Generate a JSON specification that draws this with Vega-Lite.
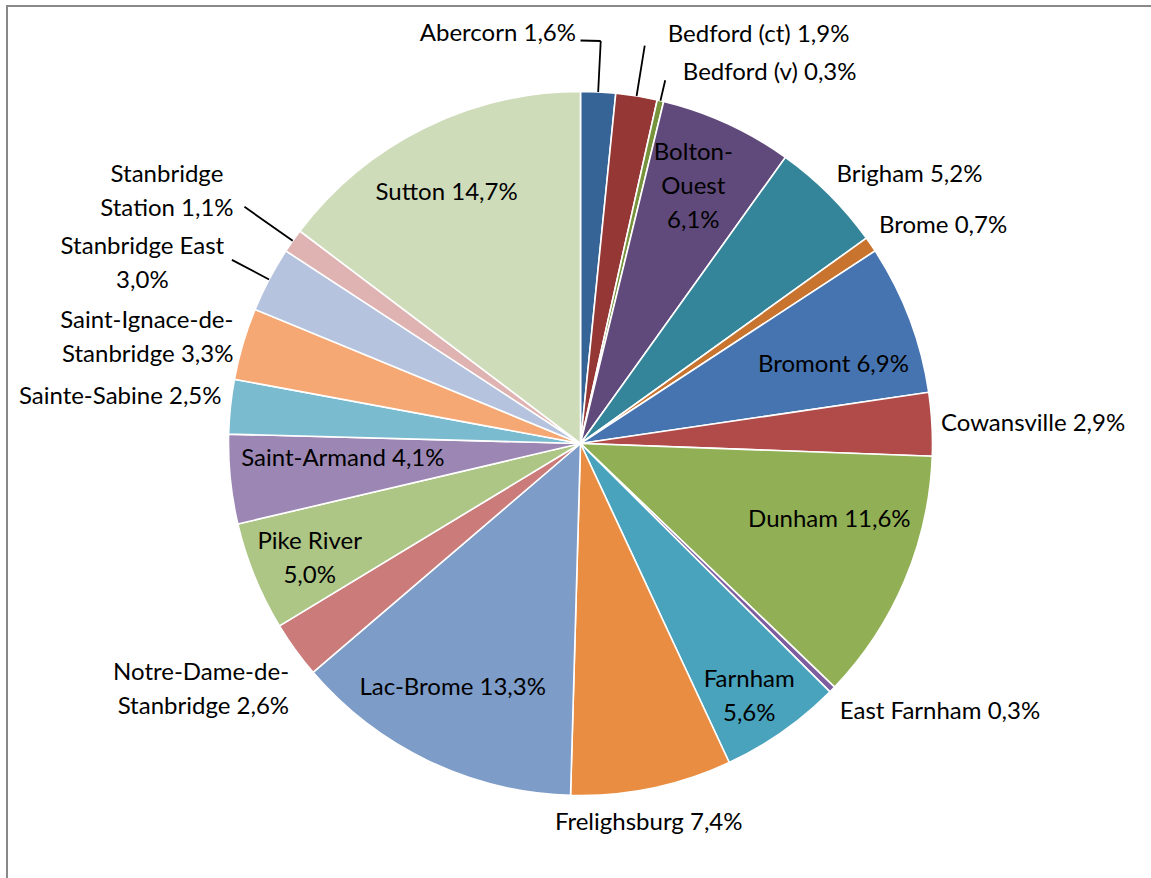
{
  "$schema": "https://vega.github.io/schema/vega-lite/v6.json",
  "autosize": "none",
  "width": 1147,
  "height": 875,
  "padding": {"left": 7, "top": 6, "right": -3, "bottom": -3},
  "background": "white",
  "view": {"stroke": "#898989", "strokeWidth": 2},
  "config": {"text": {"font": "Lato", "fontSize": 24, "lineBreak": "\n", "lineHeight": 34, "baseline": "middle", "color": "black"}},
  "data": {
    "values": [
      {"rank": 1, "name": "Abercorn", "label": "Abercorn 1,6%", "value": 1.6},
      {"rank": 2, "name": "Bedford (ct)", "label": "Bedford (ct) 1,9%", "value": 1.9},
      {"rank": 3, "name": "Bedford (v)", "label": "Bedford (v) 0,3%", "value": 0.3},
      {"rank": 4, "name": "Bolton-Ouest", "label": "Bolton-\nOuest\n6,1%", "value": 6.1},
      {"rank": 5, "name": "Brigham", "label": "Brigham 5,2%", "value": 5.2},
      {"rank": 6, "name": "Brome", "label": "Brome 0,7%", "value": 0.7},
      {"rank": 7, "name": "Bromont", "label": "Bromont 6,9%", "value": 6.9},
      {"rank": 8, "name": "Cowansville", "label": "Cowansville 2,9%", "value": 2.9},
      {"rank": 9, "name": "Dunham", "label": "Dunham 11,6%", "value": 11.6},
      {"rank": 10, "name": "East Farnham", "label": "East Farnham 0,3%", "value": 0.3},
      {"rank": 11, "name": "Farnham", "label": "Farnham\n5,6%", "value": 5.6},
      {"rank": 12, "name": "Frelighsburg", "label": "Frelighsburg 7,4%", "value": 7.4},
      {"rank": 13, "name": "Lac-Brome", "label": "Lac-Brome 13,3%", "value": 13.3},
      {"rank": 14, "name": "Notre-Dame-de-Stanbridge", "label": "Notre-Dame-de-\nStanbridge 2,6%", "value": 2.6},
      {"rank": 15, "name": "Pike River", "label": "Pike River\n5,0%", "value": 5.0},
      {"rank": 16, "name": "Saint-Armand", "label": "Saint-Armand 4,1%", "value": 4.1},
      {"rank": 17, "name": "Sainte-Sabine", "label": "Sainte-Sabine 2,5%", "value": 2.5},
      {"rank": 18, "name": "Saint-Ignace-de-Stanbridge", "label": "Saint-Ignace-de-\nStanbridge 3,3%", "value": 3.3},
      {"rank": 19, "name": "Stanbridge East", "label": "Stanbridge East\n3,0%", "value": 3.0},
      {"rank": 20, "name": "Stanbridge Station", "label": "Stanbridge\nStation 1,1%", "value": 1.1},
      {"rank": 21, "name": "Sutton", "label": "Sutton 14,7%", "value": 14.7}
    ]
  },
  "encoding": {
    "theta": {"field": "value", "type": "quantitative", "stack": true},
    "order": {"field": "rank", "type": "quantitative", "sort": "ascending"}
  },
  "layer": [
    {
      "mark": {"type": "arc", "outerRadius": 352, "stroke": "white", "strokeWidth": 1.6},
      "encoding": {
        "color": {
          "field": "name",
          "type": "nominal",
          "legend": null,
          "scale": {
            "domain": ["Abercorn", "Bedford (ct)", "Bedford (v)", "Bolton-Ouest", "Brigham", "Brome", "Bromont", "Cowansville", "Dunham", "East Farnham", "Farnham", "Frelighsburg", "Lac-Brome", "Notre-Dame-de-Stanbridge", "Pike River", "Saint-Armand", "Sainte-Sabine", "Saint-Ignace-de-Stanbridge", "Stanbridge East", "Stanbridge Station", "Sutton"],
            "range": ["#376496", "#953735", "#77933C", "#604A7B", "#35859A", "#C8732E", "#4674B0", "#B14B49", "#91AF54", "#7D5FA0", "#4AA3BD", "#E88D41", "#7E9CC8", "#CB7B79", "#ADC585", "#9C86B3", "#7BBBD0", "#F5A873", "#B5C3DE", "#DFB3B2", "#CFDCBA"]
          }
        }
      }
    },
    {
      "transform": [
        {"window": [{"op": "sum", "field": "value", "as": "cum"}], "sort": [{"field": "rank"}], "frame": [null, 0]},
        {"calculate": "datum.cum - datum.value / 2", "as": "mid"},
        {"filter": "indexof(['Abercorn','Bedford (ct)'], datum.name) >= 0"}
      ],
      "mark": {"type": "arc", "innerRadius": 352, "outerRadius": 403, "stroke": "black", "strokeWidth": 1.8, "fillOpacity": 0},
      "encoding": {
        "theta": {"field": "mid", "type": "quantitative", "stack": null},
        "theta2": {"field": "mid"}
      }
    },
    {
      "transform": [
        {"window": [{"op": "sum", "field": "value", "as": "cum"}], "sort": [{"field": "rank"}], "frame": [null, 0]},
        {"calculate": "datum.cum - datum.value / 2", "as": "mid"},
        {"filter": "datum.name === 'Stanbridge Station'"}
      ],
      "mark": {"type": "arc", "innerRadius": 352, "outerRadius": 411, "stroke": "black", "strokeWidth": 1.8, "fillOpacity": 0},
      "encoding": {
        "theta": {"field": "mid", "type": "quantitative", "stack": null},
        "theta2": {"field": "mid"}
      }
    },
    {
      "transform": [
        {"window": [{"op": "sum", "field": "value", "as": "cum"}], "sort": [{"field": "rank"}], "frame": [null, 0]},
        {"calculate": "datum.cum - datum.value / 2", "as": "mid"},
        {"filter": "datum.name === 'Bedford (v)'"}
      ],
      "mark": {"type": "arc", "innerRadius": 352, "outerRadius": 373, "stroke": "black", "strokeWidth": 1.8, "fillOpacity": 0},
      "encoding": {
        "theta": {"field": "mid", "type": "quantitative", "stack": null},
        "theta2": {"field": "mid"}
      }
    },
    {
      "transform": [
        {"window": [{"op": "sum", "field": "value", "as": "cum"}], "sort": [{"field": "rank"}], "frame": [null, 0]},
        {"calculate": "datum.cum - datum.value / 2", "as": "mid"},
        {"filter": "datum.name === 'Stanbridge East'"}
      ],
      "mark": {"type": "arc", "innerRadius": 352, "outerRadius": 394, "stroke": "black", "strokeWidth": 1.8, "fillOpacity": 0},
      "encoding": {
        "theta": {"field": "mid", "type": "quantitative", "stack": null},
        "theta2": {"field": "mid"}
      }
    },
    {
      "transform": [
        {"window": [{"op": "sum", "field": "value", "as": "cum"}], "sort": [{"field": "rank"}], "frame": [null, 0]},
        {"calculate": "datum.cum - datum.value / 2", "as": "mid"},
        {"calculate": "datum.cum - datum.value", "as": "start"},
        {"filter": "datum.name === 'Abercorn'"}
      ],
      "mark": {"type": "arc", "innerRadius": 403, "outerRadius": 403, "stroke": "black", "strokeWidth": 1.8, "fillOpacity": 0},
      "encoding": {
        "theta": {"field": "start", "type": "quantitative", "stack": null},
        "theta2": {"field": "mid"}
      }
    },
    {"mark": {"type": "text", "radius": 285, "dx": -6, "dy": -31, "align": "center"}, "encoding": {"text": {"field": "label"}, "opacity": {"condition": {"test": "datum.name === 'Bolton-Ouest'", "value": 1}, "value": 0}}},
    {"mark": {"type": "text", "radius": 262, "dx": 8, "dy": 14, "align": "center"}, "encoding": {"text": {"field": "label"}, "opacity": {"condition": {"test": "datum.name === 'Bromont'", "value": 1}, "value": 0}}},
    {"mark": {"type": "text", "radius": 255, "dx": 14, "dy": -23, "align": "center"}, "encoding": {"text": {"field": "label"}, "opacity": {"condition": {"test": "datum.name === 'Dunham'", "value": 1}, "value": 0}}},
    {"mark": {"type": "text", "radius": 285, "dx": 5, "dy": 3, "align": "center"}, "encoding": {"text": {"field": "label"}, "opacity": {"condition": {"test": "datum.name === 'Farnham'", "value": 1}, "value": 0}}},
    {"mark": {"type": "text", "radius": 285, "dx": -5, "dy": -13, "align": "center"}, "encoding": {"text": {"field": "label"}, "opacity": {"condition": {"test": "datum.name === 'Lac-Brome'", "value": 1}, "value": 0}}},
    {"mark": {"type": "text", "radius": 285, "dx": -7, "dy": -9, "align": "center"}, "encoding": {"text": {"field": "label"}, "opacity": {"condition": {"test": "datum.name === 'Pike River'", "value": 1}, "value": 0}}},
    {"mark": {"type": "text", "radius": 255, "dx": 16, "dy": -10, "align": "center"}, "encoding": {"text": {"field": "label"}, "opacity": {"condition": {"test": "datum.name === 'Saint-Armand'", "value": 1}, "value": 0}}},
    {"mark": {"type": "text", "radius": 285, "dx": -7, "dy": 5, "align": "center"}, "encoding": {"text": {"field": "label"}, "opacity": {"condition": {"test": "datum.name === 'Sutton'", "value": 1}, "value": 0}}},
    {"mark": {"type": "text", "radius": 368, "dx": -4, "dy": -8, "align": "left"}, "encoding": {"text": {"field": "label"}, "opacity": {"condition": {"test": "datum.name === 'Brigham'", "value": 1}, "value": 0}}},
    {"mark": {"type": "text", "radius": 368, "dx": -5, "dy": -9, "align": "left"}, "encoding": {"text": {"field": "label"}, "opacity": {"condition": {"test": "datum.name === 'Brome'", "value": 1}, "value": 0}}},
    {"mark": {"type": "text", "radius": 368, "dx": -7, "dy": 1, "align": "left"}, "encoding": {"text": {"field": "label"}, "opacity": {"condition": {"test": "datum.name === 'Cowansville'", "value": 1}, "value": 0}}},
    {"mark": {"type": "text", "radius": 368, "dx": -4, "dy": 11, "align": "left"}, "encoding": {"text": {"field": "label"}, "opacity": {"condition": {"test": "datum.name === 'East Farnham'", "value": 1}, "value": 0}}},
    {"mark": {"type": "text", "radius": 365, "dx": 4, "dy": -8, "align": "right"}, "encoding": {"text": {"field": "label"}, "opacity": {"condition": {"test": "datum.name === 'Sainte-Sabine'", "value": 1}, "value": 0}}},
    {"mark": {"type": "text", "radius": 365, "dx": 3, "dy": -19, "align": "right"}, "encoding": {"text": {"field": "label"}, "opacity": {"condition": {"test": "datum.name === 'Saint-Ignace-de-Stanbridge'", "value": 1}, "value": 0}}},
    {"mark": {"type": "text", "radius": 372, "dx": 10, "dy": 12, "align": "right"}, "encoding": {"text": {"field": "label"}, "opacity": {"condition": {"test": "datum.name === 'Notre-Dame-de-Stanbridge'", "value": 1}, "value": 0}}},
    {"mark": {"type": "text", "radius": 386, "dx": -10, "dy": 2, "align": "center"}, "encoding": {"text": {"field": "label"}, "opacity": {"condition": {"test": "datum.name === 'Frelighsburg'", "value": 1}, "value": 0}}},
    {"mark": {"type": "text", "radius": 409, "dx": -25, "dy": -1, "align": "right"}, "encoding": {"text": {"field": "label"}, "opacity": {"condition": {"test": "datum.name === 'Abercorn'", "value": 1}, "value": 0}}},
    {"mark": {"type": "text", "radius": 409, "dx": 22, "dy": -5, "align": "left"}, "encoding": {"text": {"field": "label"}, "opacity": {"condition": {"test": "datum.name === 'Bedford (ct)'", "value": 1}, "value": 0}}},
    {"mark": {"type": "text", "radius": 380, "dx": 16, "dy": 0, "align": "left"}, "encoding": {"text": {"field": "label"}, "opacity": {"condition": {"test": "datum.name === 'Bedford (v)'", "value": 1}, "value": 0}}},
    {"mark": {"type": "text", "radius": 430, "dx": -62, "dy": -21, "align": "center"}, "encoding": {"text": {"field": "label"}, "opacity": {"condition": {"test": "datum.name === 'Stanbridge Station'", "value": 1}, "value": 0}}},
    {"mark": {"type": "text", "radius": 398, "dx": -86, "dy": -11, "align": "center"}, "encoding": {"text": {"field": "label"}, "opacity": {"condition": {"test": "datum.name === 'Stanbridge East'", "value": 1}, "value": 0}}}
  ]
}
